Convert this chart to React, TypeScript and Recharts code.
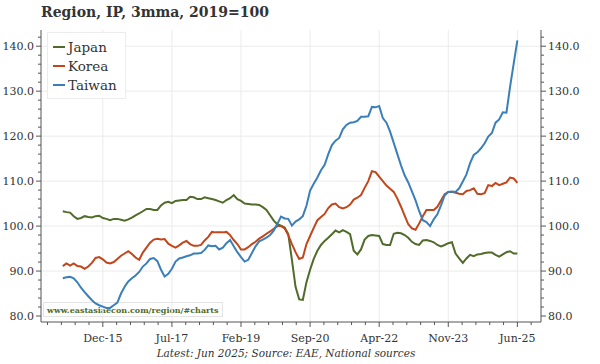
import React from 'react';
import { LineChart, Line, XAxis, YAxis, CartesianGrid, Legend } from 'recharts';

// monthly 3mma index, 2019=100, Jan 2015 .. Jun 2025
const japan = [
  103.3, 103.1, 103.0, 102.2, 101.6, 101.8, 102.2, 102.0, 101.9, 102.2,
  102.3, 101.8, 101.6, 101.3, 101.6, 101.6, 101.4, 101.2, 101.5, 101.9,
  102.4, 102.8, 103.3, 103.8, 103.8, 103.6, 103.6, 104.6, 105.2, 105.4,
  105.1, 105.6, 105.7, 105.8, 105.8, 106.5, 106.4, 106.0, 106.0, 106.4,
  106.2, 106.0, 105.8, 105.5, 105.2, 105.8, 106.2, 106.9, 106.0, 105.6,
  105.0, 104.9, 104.8, 104.8, 104.7, 104.2, 103.6, 102.4, 101.2, 100.4,
  100.1, 99.7, 98.2, 92.5, 86.5, 83.7, 83.6, 87.5, 90.3, 92.7,
  94.5, 95.8, 96.7, 97.4, 98.2, 99.0, 98.6, 99.1, 98.7, 98.2,
  94.5, 93.7, 94.8, 97.0, 97.8, 98.0, 97.9, 97.8, 96.0, 95.8,
  95.8, 98.3, 98.5, 98.4, 98.0, 97.4, 96.5, 96.0, 95.8, 96.8,
  96.9, 96.7, 96.4, 95.8, 95.5, 95.8, 96.2, 96.4, 93.9, 92.8,
  91.8, 92.8, 93.6, 93.3, 93.7, 93.8, 94.0, 94.1, 94.1, 93.6,
  93.2, 93.7, 94.2, 94.4, 93.9, 93.9,
];

const korea = [
  91.1, 91.7, 91.2, 91.7, 91.1, 91.0, 90.5, 91.0, 91.8, 92.9,
  93.1, 92.6, 91.9, 91.7, 92.0, 92.7, 93.4, 93.9, 94.4, 93.8,
  93.0, 92.5, 94.1, 95.2, 96.3, 97.0, 97.2, 97.0, 97.1, 96.1,
  95.6, 95.2, 95.7, 96.3, 96.7, 96.0, 95.6, 95.6, 95.8, 96.8,
  97.6, 98.7, 98.6, 98.6, 98.6, 98.7, 98.0, 96.9, 96.0, 94.8,
  94.8, 95.3, 96.0, 96.5, 97.2, 97.7, 98.3, 98.8, 99.4, 100.0,
  100.0, 99.5, 98.0, 96.0, 94.2, 92.7, 93.0, 96.0, 97.8, 99.6,
  101.3, 102.0, 102.7, 104.0, 104.8, 105.0, 104.2, 103.9, 104.2, 104.8,
  105.9, 106.3, 106.9, 108.5, 110.0, 112.2, 112.0, 111.0, 110.0, 109.0,
  108.3, 107.6, 106.1, 104.3, 102.3, 100.4, 99.5, 99.2, 100.6, 102.2,
  103.6, 103.6, 103.6, 104.3, 105.7, 107.1, 107.6, 107.6, 107.4, 107.2,
  107.1, 107.8, 108.0, 108.4, 107.2, 107.1, 107.3, 109.1, 108.9, 109.6,
  109.1, 109.4, 109.7, 110.8, 110.6, 109.6,
];

const taiwan = [
  88.4, 88.6, 88.7, 88.4, 87.5, 86.3, 85.3, 84.4, 83.5, 82.8,
  82.4, 82.1, 81.8, 81.8, 82.4, 83.0, 85.0, 86.5, 87.7, 88.4,
  89.0, 89.8, 91.0, 91.7, 92.7, 92.9, 92.2, 90.3, 88.8, 89.4,
  90.5, 92.1, 92.8, 93.0, 93.3, 93.5, 93.9, 93.9, 94.0, 94.7,
  95.7, 95.5, 95.6, 94.8, 95.2, 96.2, 96.9, 95.5, 94.2, 93.1,
  92.1, 92.5, 94.0, 95.5, 96.6, 97.0, 97.4, 98.0, 99.0, 100.5,
  102.1, 101.7, 101.6, 100.1, 101.0, 101.5, 102.2, 104.5, 107.9, 109.4,
  110.8, 112.4, 113.6, 116.0, 118.0, 119.0, 119.6, 121.5, 122.5, 123.0,
  123.1, 123.4, 124.3, 124.3, 124.4, 126.5, 126.4, 126.7, 124.0, 123.0,
  121.0, 118.5, 116.0, 113.5, 111.3, 109.7, 107.7, 105.7, 103.3, 101.3,
  100.9, 100.0, 101.5, 102.6, 104.6, 106.8, 107.6, 107.7, 107.6, 108.4,
  109.9, 111.5, 114.0, 115.8, 116.4, 117.3, 118.4, 119.9, 120.7, 123.0,
  123.7, 125.3, 125.2, 131.0, 136.2, 141.3,
];

// x ticks, in months since Jan 2015
const majorTicks = [11, 30, 49, 68, 87, 106, 125];
const tickLabels = ['Dec-15', 'Jul-17', 'Feb-19', 'Sep-20', 'Apr-22', 'Nov-23', 'Jun-25'];
const yLabels = [80, 90, 100, 110, 120, 130, 140];

const data = japan.map((v, i) => ({ m: i, japan: v, korea: korea[i], taiwan: taiwan[i] }));

const xTicks: number[] = [];
for (let k = -1; k < majorTicks.length; k++) {
  const base = k < 0 ? majorTicks[0] - 19 : majorTicks[k];
  for (let j = 0; j < 5; j++) {
    const t = base + j * 3.8;
    if (t > -6 && t < 131) xTicks.push(t);
  }
}
const yTicks: number[] = [];
for (let v = 80; v <= 142; v += 2) yTicks.push(v);

const AXIS = '#555';
const TEXT = '#333';
const FONT = '"DejaVu Serif", serif';

const XTick = (props: any) => {
  const { x, y, payload } = props;
  const idx = majorTicks.findIndex((t) => Math.abs(t - payload.value) < 0.01);
  return (
    <g>
      <line x1={x} x2={x} y1={y} y2={y + (idx >= 0 ? 5 : 3)} stroke={AXIS} />
      {idx >= 0 && (
        <text x={x} y={y + 20} textAnchor="middle" fontSize={11} fill={TEXT} fontFamily={FONT}>
          {tickLabels[idx]}
        </text>
      )}
    </g>
  );
};

const YTick = (props: any) => {
  const { x, y, payload, side } = props;
  const major = yLabels.includes(payload.value);
  const dir = side === 'right' ? 1 : -1;
  return (
    <g>
      <line x1={x} x2={x + dir * (major ? 5 : 3)} y1={y} y2={y} stroke={AXIS} />
      {major && (
        <text x={x + dir * 7} y={y + 4} textAnchor={side === 'right' ? 'start' : 'end'} fontSize={11} fill={TEXT} fontFamily={FONT}>
          {payload.value.toFixed(1)}
        </text>
      )}
    </g>
  );
};

const LegendBox = (props: any) => (
  <div style={{ background: '#fff', border: '1px solid #ececec', padding: '4px 8px 4px 5px', fontFamily: FONT }}>
    {props.payload.map((p: any) => (
      <div key={p.value} style={{ display: 'flex', alignItems: 'center', height: 19, fontSize: 13.5, color: TEXT }}>
        <span style={{ width: 12, height: 2, background: p.color, marginRight: 3 }} />
        {p.value}
      </div>
    ))}
  </div>
);

export default function App() {
  return (
    <div style={{ position: 'absolute', left: 0, top: 0, width: 600, height: 364, background: '#fff', fontFamily: FONT }}>
      <div style={{ position: 'absolute', left: 41, top: 4, fontSize: 14, fontWeight: 'bold', color: TEXT, lineHeight: '16px' }}>
        Region, IP, 3mma, 2019=100
      </div>
      {/* watermark sits behind the lines */}
      <div style={{ position: 'absolute', left: 43, top: 302, width: 180, height: 15, lineHeight: '15px', background: '#fff', border: '1px solid #e4e4e4', fontSize: 8, fontWeight: 'bold', color: '#4f6a28', paddingLeft: 3, boxSizing: 'border-box' }}>
        www.eastasiaecon.com/region/#charts
      </div>
      <div style={{ position: 'absolute', left: 0, top: 0 }}>
        <LineChart width={600} height={364} data={data} margin={{ top: 30, right: 0, bottom: 0, left: 0 }}>
          <CartesianGrid yAxisId="l" stroke="#ebebeb" horizontalValues={yLabels.slice(1)} verticalValues={majorTicks} />
          <XAxis dataKey="m" type="number" domain={[-6, 131.5]} ticks={xTicks} interval={0} height={42}
            stroke={AXIS} tickSize={0} tickMargin={0} tickLine={false} tick={<XTick />} allowDataOverflow />
          <YAxis yAxisId="l" orientation="left" width={41} domain={[78.67, 143.6]} ticks={yTicks} interval={0}
            stroke={AXIS} tickSize={0} tickMargin={0} tickLine={false} tick={<YTick side="left" />} allowDataOverflow />
          <YAxis yAxisId="r" orientation="right" width={59} domain={[78.67, 143.6]} ticks={yTicks} interval={0}
            stroke={AXIS} tickSize={0} tickMargin={0} tickLine={false} tick={<YTick side="right" />} allowDataOverflow />
          <Legend layout="vertical" align="center" verticalAlign="middle" content={<LegendBox />}
            wrapperStyle={{ left: 47, top: 32, width: 'auto' }} />
          <Line yAxisId="l" type="linear" dataKey="japan" name="Japan" stroke="#506b2a" strokeWidth={2} dot={false} isAnimationActive={false} />
          <Line yAxisId="l" type="linear" dataKey="korea" name="Korea" stroke="#c2461b" strokeWidth={2} dot={false} isAnimationActive={false} />
          <Line yAxisId="l" type="linear" dataKey="taiwan" name="Taiwan" stroke="#3b7fb9" strokeWidth={2} dot={false} isAnimationActive={false} />
        </LineChart>
      </div>
      <div style={{ position: 'absolute', left: 86, width: 400, top: 347, textAlign: 'center', fontSize: 10.5, fontStyle: 'italic', color: TEXT }}>
        Latest: Jun 2025; Source: EAE, National sources
      </div>
    </div>
  );
}
